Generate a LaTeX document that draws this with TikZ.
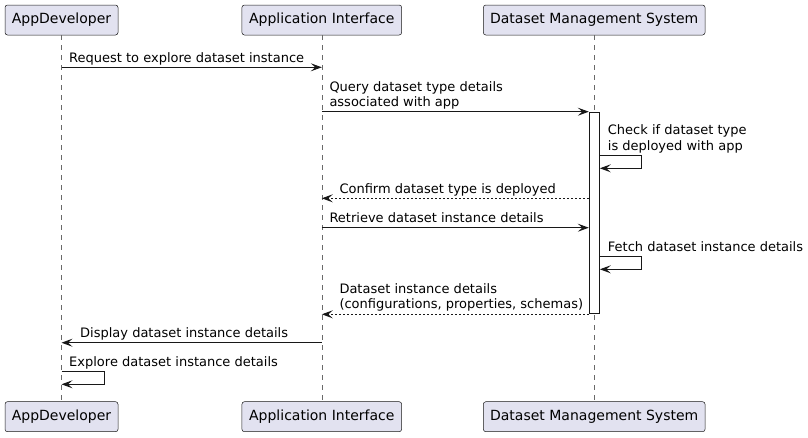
\documentclass[tikz,border=0pt]{standalone}
\usepackage{fontspec}
\setmainfont{DejaVu Sans}
\usetikzlibrary{arrows.meta}
\definecolor{pf}{HTML}{E2E2F0}
\definecolor{lc}{HTML}{181818}
\begin{document}
\begin{tikzpicture}[x=1pt,y=-1pt,
  part/.style={draw=lc, fill=pf, rounded corners=2.5pt, minimum height=30pt, inner sep=0pt, line width=0.5pt, font=\fontsize{14}{16}\selectfont},
  life/.style={draw=lc!65, line width=0.5pt, dash pattern=on 5pt off 5pt},
  msg/.style={draw=lc, line width=1pt, -{Stealth[length=11pt,width=8pt,inset=4.5pt]}},
  ret/.style={msg, dash pattern=on 2pt off 2pt},
  lbl/.style={anchor=base west, inner sep=0pt, align=left, font=\fontsize{13}{15.2}\selectfont},
  actbar/.style={draw=lc, fill=white, line width=1pt}]
\useasboundingbox (0,0) rectangle (808,437);
% participants
\node[part, minimum width=113pt] (adT) at (61.5,20) {AppDeveloper};
\node[part, minimum width=159.7pt] (aiT) at (321.8,20) {Application Interface};
\node[part, minimum width=221.7pt] (dmT) at (594.2,20) {Dataset Management System};
\node[part, minimum width=113pt] (adB) at (61.5,416.7) {AppDeveloper};
\node[part, minimum width=159.7pt] (aiB) at (321.8,416.7) {Application Interface};
\node[part, minimum width=221.7pt] (dmB) at (594.2,416.7) {Dataset Management System};
% lifelines
\draw[life] (adT) -- (adB);
\draw[life] (aiT) -- (aiB);
\draw[life] (dmT) -- (dmB);
% activation
\node[actbar, minimum width=10pt, minimum height=201.6pt, inner sep=0pt, anchor=north] (act) at (594.3,111.7) {};
% messages
\draw[msg] (adT |- 0,67.3) -- (aiT |- 0,67.3);
\node[lbl] (m1) at (69,62.3) {Request to explore dataset instance};
\draw[msg] (aiT |- 0,111.7) -- (act.north west);
\node[lbl] (m2) at (329.3,106.5) {Query dataset type details\\associated with app};
\coordinate (c1) at (641.7,155);
\coordinate (c2) at (641.7,168.3);
\draw[msg] (act.east |- c1) -- (c1) -- (c2) -- (act.east |- c2);
\node[lbl] (m3) at (607.7,150) {Check if dataset type\\is deployed with app};
\draw[ret] (act.west |- 0,198.3) -- (aiT |- 0,198.3);
\node[lbl] (m4) at (339.3,193) {Confirm dataset type is deployed};
\draw[msg] (aiT |- 0,227.7) -- (act.west |- 0,227.7);
\node[lbl] (m5) at (329.3,222.5) {Retrieve dataset instance details};
\coordinate (f1) at (641.7,256.7);
\coordinate (f2) at (641.7,269.3);
\draw[msg] (act.east |- f1) -- (f1) -- (f2) -- (act.east |- f2);
\node[lbl] (m6) at (607.7,251.2) {Fetch dataset instance details};
\draw[ret] (act.south west) -- (aiT |- act.south west);
\node[lbl] (m7) at (339.3,308.2) {Dataset instance details\\(configurations, properties, schemas)};
\draw[msg] (aiT |- 0,342.7) -- (adT |- 0,342.7);
\node[lbl] (m8) at (80,337.5) {Display dataset instance details};
\coordinate (e1) at (104,371.7);
\coordinate (e2) at (104,384.3);
\draw[msg] (adT |- e1) -- (e1) -- (e2) -- (adT |- e2);
\node[lbl] (m9) at (69,366.5) {Explore dataset instance details};
\end{tikzpicture}
\end{document}
